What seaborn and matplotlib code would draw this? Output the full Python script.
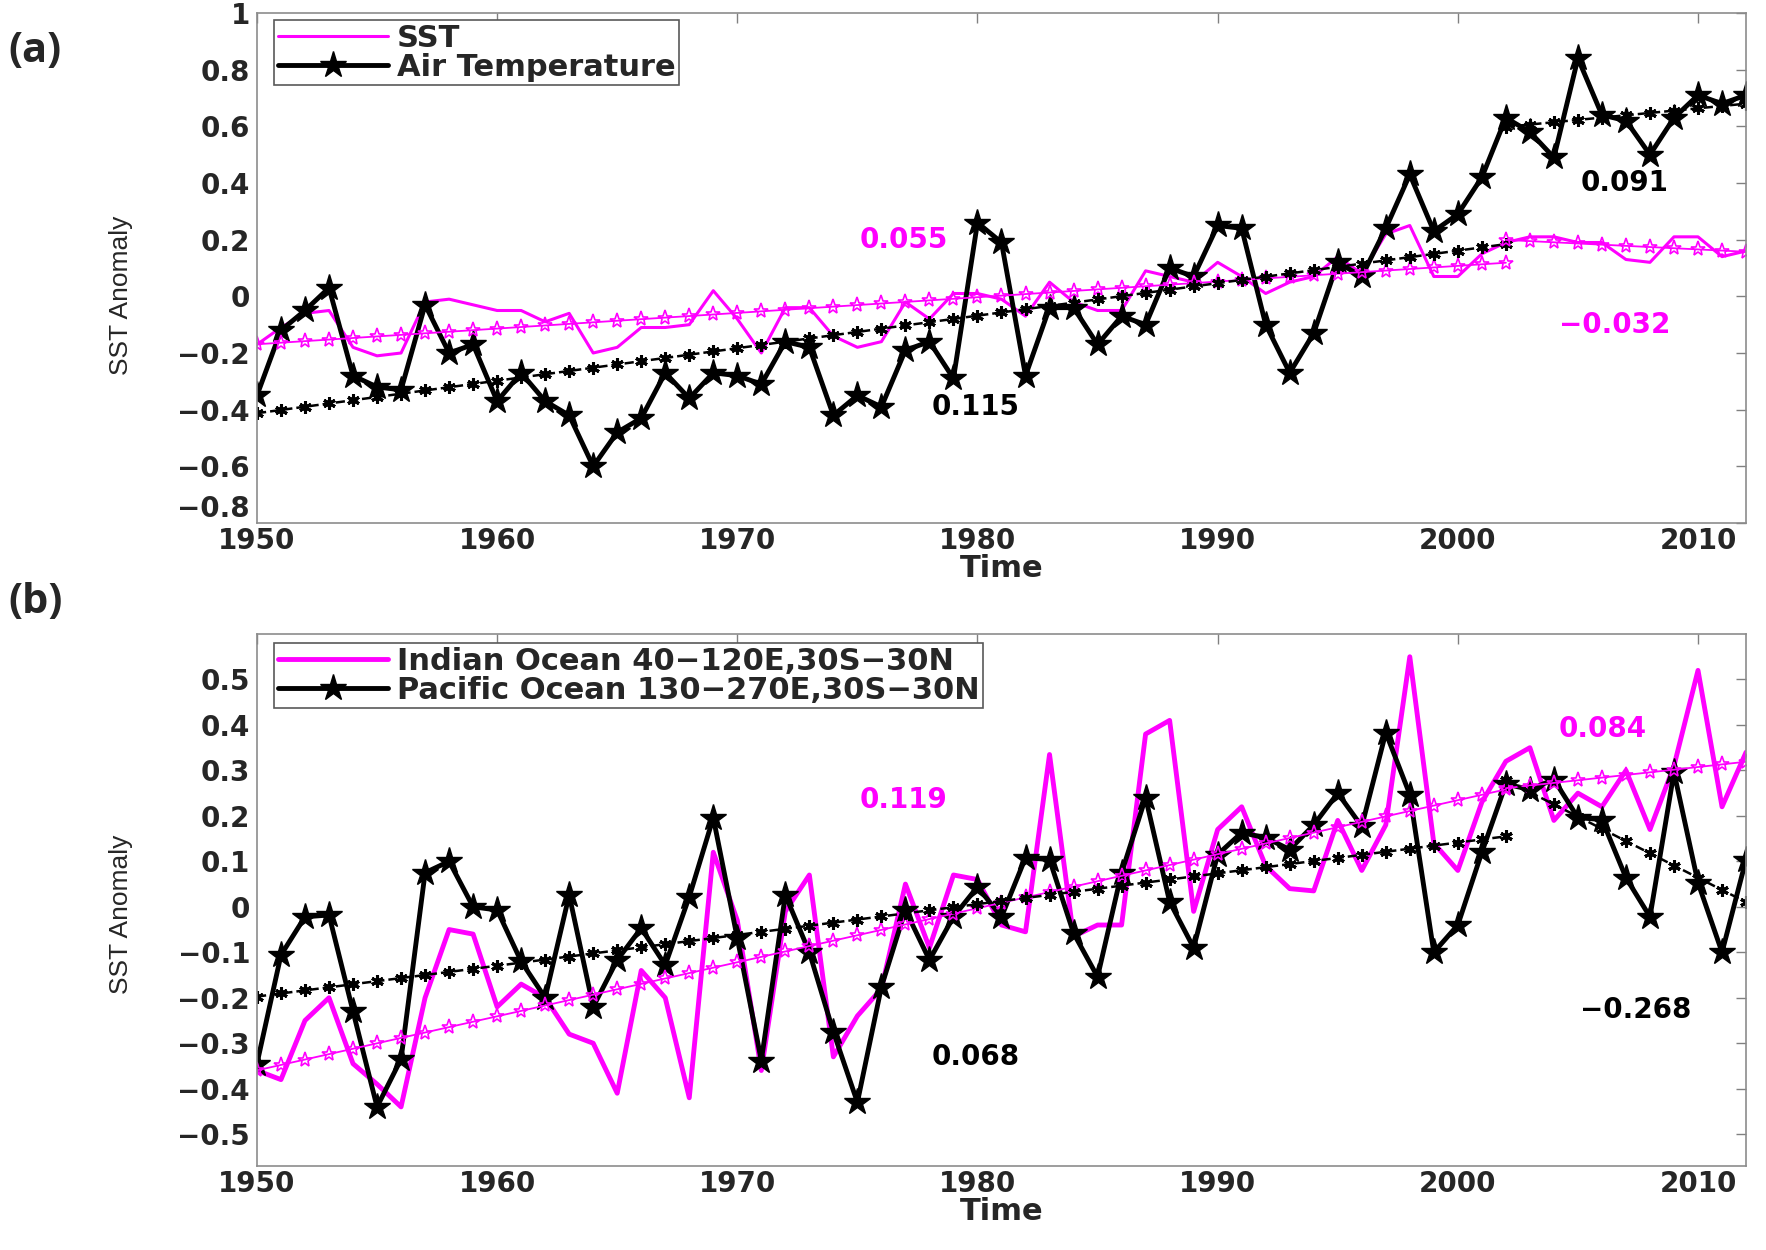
import numpy as np
import matplotlib
matplotlib.use('Agg')
import matplotlib.pyplot as plt
import seaborn as sns
from matplotlib import font_manager
from matplotlib.ticker import FuncFormatter

# ---- data ----
years = np.arange(1950, 2013)

# panel (a)
sst = [-0.17, -0.11, -0.06, -0.05, -0.18, -0.21, -0.20, -0.02, -0.01, -0.03,
       -0.05, -0.05, -0.09, -0.06, -0.20, -0.18, -0.11, -0.11, -0.10, 0.02,
       -0.08, -0.20, -0.04, -0.04, -0.14, -0.18, -0.16, -0.02, -0.08, 0.01,
       0.01, -0.01, -0.07, 0.05, -0.02, -0.05, -0.05, 0.09, 0.07, 0.05,
       0.12, 0.07, 0.01, 0.05, 0.07, 0.14, 0.08, 0.22, 0.25, 0.07,
       0.07, 0.15, 0.19, 0.21, 0.21, 0.19, 0.19, 0.13, 0.12, 0.21,
       0.21, 0.14, 0.16]
air_temp = [-0.35, -0.12, -0.05, 0.03, -0.28, -0.32, -0.33, -0.03, -0.20, -0.17,
            -0.37, -0.27, -0.37, -0.42, -0.60, -0.48, -0.43, -0.27, -0.36, -0.27,
            -0.28, -0.31, -0.16, -0.18, -0.42, -0.35, -0.39, -0.19, -0.16, -0.29,
            0.26, 0.19, -0.28, -0.04, -0.04, -0.17, -0.07, -0.10, 0.10, 0.07,
            0.25, 0.24, -0.10, -0.27, -0.13, 0.12, 0.07, 0.24, 0.43, 0.23,
            0.29, 0.42, 0.63, 0.58, 0.49, 0.84, 0.64, 0.62, 0.50, 0.63,
            0.71, 0.68, 0.71]

# panel (b)
indian = [-0.36, -0.38, -0.25, -0.20, -0.345, -0.39, -0.44, -0.20, -0.05, -0.06,
          -0.22, -0.17, -0.20, -0.28, -0.30, -0.41, -0.14, -0.20, -0.42, 0.12,
          -0.03, -0.36, -0.01, 0.07, -0.33, -0.24, -0.18, 0.05, -0.09, 0.07,
          0.06, -0.04, -0.055, 0.335, -0.065, -0.04, -0.04, 0.38, 0.41, -0.01,
          0.17, 0.22, 0.09, 0.04, 0.035, 0.19, 0.08, 0.18, 0.55, 0.14,
          0.08, 0.23, 0.32, 0.35, 0.19, 0.25, 0.22, 0.30, 0.17, 0.31,
          0.52, 0.22, 0.34]
pacific = [-0.345, -0.106, -0.022, -0.018, -0.23, -0.44, -0.335, 0.075, 0.10, 0.0,
           -0.007, -0.12, -0.20, 0.026, -0.22, -0.117, -0.047, -0.128, 0.022, 0.196,
           -0.069, -0.338, 0.026, -0.10, -0.275, -0.43, -0.176, -0.007, -0.117, -0.022,
           0.044, -0.022, 0.108, 0.104, -0.058, -0.154, 0.075, 0.24, 0.011, -0.09,
           0.115, 0.163, 0.152, 0.126, 0.18, 0.25, 0.177, 0.383, 0.247, -0.10,
           -0.04, 0.12, 0.27, 0.258, 0.28, 0.196, 0.192, 0.064, -0.022, 0.296,
           0.053, -0.10, 0.104]

# trend periods
periods = [(1950, 2002), (2002, 2012)]

names_a = ['SST', 'Air Temperature']
names_b = ['Indian Ocean 40\u2212120E,30S\u221230N', 'Pacific Ocean 130\u2212270E,30S\u221230N']

yticks_a = [-0.8, -0.6, -0.4, -0.2, 0, 0.2, 0.4, 0.6, 0.8, 1]
yticks_b = [-0.5, -0.4, -0.3, -0.2, -0.1, 0, 0.1, 0.2, 0.3, 0.4, 0.5]
xticks = [1950, 1960, 1970, 1980, 1990, 2000, 2010]

# trend labels: (x, y, text, colour)
notes_a = [(1975.1, 0.20, '0.055', 'm'), (2004.2, -0.10, '\u22120.032', 'm'),
           (1978.1, -0.39, '0.115', 'k'), (2005.1, 0.40, '0.091', 'k')]
notes_b = [(1975.1, 0.236, '0.119', 'm'), (2004.2, 0.39, '0.084', 'm'),
           (1978.1, -0.33, '0.068', 'k'), (2005.1, -0.227, '\u22120.268', 'k')]

MAG = '#ff00ff'

sns.set_style('white')
plt.rcParams['font.family'] = ['DejaVu Sans']
plt.rcParams['font.weight'] = 'bold'

# narrow font for the y label if we have one
try:
    font_manager.findfont(font_manager.FontProperties(family='Liberation Sans Narrow'),
                          fallback_to_default=False)
    ylab_font, ylab_size = 'Liberation Sans Narrow', 25
except Exception:
    ylab_font, ylab_size = 'Liberation Sans', 19


def fmt(v, pos):
    return f'{v:g}'.replace('-', '\u2212')


def trend(y, lo, hi):
    y = np.asarray(y)
    m = (years >= lo) & (years <= hi)
    p = np.polyfit(years[m], y[m], 1)
    return years[m], np.polyval(p, years[m])


def panel(ax, s1, s2, names, lw1, ylim, yticks, notes, leg_top, ylab_y):
    sns.lineplot(x=years, y=s1, ax=ax, color=MAG, lw=lw1, label=names[0])
    sns.lineplot(x=years, y=s2, ax=ax, color='k', lw=3.5, marker='*', ms=20,
                 mec='k', mew=1, label=names[1])
    for lo, hi in periods:
        tx, ty = trend(s1, lo, hi)
        sns.lineplot(x=tx, y=ty, ax=ax, color=MAG, lw=1.3, marker='*', ms=11,
                     mfc='none', mec=MAG, mew=1.2, legend=False)
        tx, ty = trend(s2, lo, hi)
        sns.lineplot(x=tx, y=ty, ax=ax, color='k', lw=1.8, linestyle='--',
                     marker=(6, 2, 0), ms=9, mec='k', mew=2.2, legend=False)
    for x, y, t, c in notes:
        ax.text(x, y, t, color=MAG if c == 'm' else 'k', fontsize=20,
                fontweight='bold', ha='left', va='center')

    ax.set_xlim(1950, 2012)
    ax.set_ylim(*ylim)
    ax.set_xticks(xticks)
    ax.set_yticks(yticks)
    ax.yaxis.set_major_formatter(FuncFormatter(fmt))
    ax.tick_params(direction='in', length=7, width=1, color='0.5',
                   top=True, right=True, labelsize=20)
    ax.tick_params(axis='x', pad=3)
    ax.tick_params(axis='y', pad=5)
    for s in ax.spines.values():
        s.set_color('0.55')
        s.set_linewidth(1.2)
    ax.set_xlabel('Time', fontsize=22, fontweight='bold', labelpad=-1)
    ax.set_ylabel('SST Anomaly', family=ylab_font, fontsize=ylab_size,
                  fontweight='normal')
    ax.yaxis.set_label_coords(-0.083, ylab_y)

    handles = ax.get_lines()[:2]
    leg = ax.legend(handles, names, loc='upper left',
                    bbox_to_anchor=(0.0114, leg_top), borderaxespad=0,
                    fancybox=False, framealpha=1, edgecolor='0.35',
                    fontsize=22, handlelength=3.6, handletextpad=0.3,
                    labelspacing=0.0, borderpad=0.12, numpoints=1)
    leg.get_frame().set_linewidth(1.2)


fig = plt.figure(figsize=(17.66, 12.5), dpi=100)
ax1 = fig.add_axes([0.1455, 0.5816, 0.8432, 0.408])
ax2 = fig.add_axes([0.1455, 0.0672, 0.8432, 0.4256])

panel(ax1, sst, air_temp, names_a, 2.2, (-0.8, 1.0), yticks_a, notes_a, 0.986, 0.446)
panel(ax2, indian, pacific, names_b, 3.5, (-0.57, 0.6), yticks_b, notes_b, 0.983, 0.474)

# the lowest label of (a) sits right on the corner; lift it off the year labels
ax1.get_yticklabels()[0].set_verticalalignment('bottom')

fig.text(0.005, 1 - 51 / 1250, '(a)', fontsize=30, fontweight='bold',
         family=['Open Sans', 'DejaVu Sans'], va='center', ha='left')
fig.text(0.005, 1 - 603 / 1250, '(b)', fontsize=30, fontweight='bold',
         family=['Open Sans', 'DejaVu Sans'], va='center', ha='left')

fig.savefig('out.png', dpi=100)
